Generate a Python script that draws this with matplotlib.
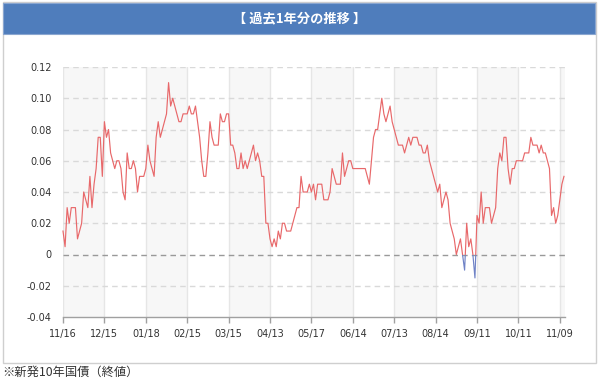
import matplotlib
matplotlib.use('Agg')
import matplotlib.pyplot as plt
from matplotlib.patches import Rectangle
import numpy as np

# ---- data ----
values = [
    0.015, 0.005, 0.03, 0.02, 0.03, 0.03, 0.03, 0.01, 0.015, 0.02,
    0.04, 0.035, 0.03, 0.05, 0.03, 0.045, 0.055, 0.075, 0.075, 0.05,
    0.085, 0.075, 0.08, 0.065, 0.06, 0.055, 0.06, 0.06, 0.055, 0.04,
    0.035, 0.065, 0.055, 0.055, 0.06, 0.055, 0.04, 0.05, 0.05, 0.05,
    0.055, 0.07, 0.06, 0.055, 0.05, 0.075, 0.085, 0.075, 0.08, 0.085,
    0.09, 0.11, 0.095, 0.10, 0.095, 0.09, 0.085, 0.085, 0.09, 0.09,
    0.09, 0.095, 0.09, 0.09, 0.095, 0.085, 0.075, 0.06, 0.05, 0.05,
    0.065, 0.085, 0.075, 0.07, 0.07, 0.07, 0.09, 0.085, 0.085, 0.09,
    0.09, 0.07, 0.07, 0.065, 0.055, 0.055, 0.065, 0.055, 0.06, 0.055,
    0.06, 0.065, 0.07, 0.06, 0.065, 0.06, 0.05, 0.05, 0.02, 0.02,
    0.01, 0.005, 0.01, 0.005, 0.015, 0.01, 0.02, 0.02, 0.015, 0.015,
    0.015, 0.02, 0.025, 0.03, 0.03, 0.05, 0.04, 0.04, 0.04, 0.045,
    0.04, 0.045, 0.035, 0.045, 0.045, 0.045, 0.035, 0.035, 0.035, 0.04,
    0.055, 0.05, 0.045, 0.045, 0.045, 0.065, 0.05, 0.055, 0.06, 0.06,
    0.055, 0.055, 0.055, 0.055, 0.055, 0.055, 0.055, 0.05, 0.045, 0.06,
    0.075, 0.08, 0.08, 0.09, 0.10, 0.09, 0.085, 0.09, 0.095, 0.085,
    0.08, 0.075, 0.07, 0.07, 0.07, 0.065, 0.07, 0.075, 0.07, 0.075,
    0.075, 0.075, 0.07, 0.07, 0.065, 0.065, 0.07, 0.06, 0.055, 0.05,
    0.045, 0.04, 0.045, 0.03, 0.035, 0.04, 0.035, 0.02, 0.015, 0.01,
    0.0, 0.005, 0.01, 0.0, -0.01, 0.02, 0.005, 0.01, 0.0, -0.015,
    0.025, 0.02, 0.04, 0.02, 0.03, 0.03, 0.03, 0.02, 0.025, 0.03,
    0.055, 0.065, 0.06, 0.075, 0.075, 0.055, 0.045, 0.055, 0.055, 0.06,
    0.06, 0.06, 0.06, 0.065, 0.065, 0.065, 0.075, 0.07, 0.07, 0.07,
    0.065, 0.07, 0.065, 0.065, 0.06, 0.055, 0.025, 0.03, 0.02, 0.025,
    0.035, 0.045, 0.05,
]
x_tick_labels = ["11/16", "12/15", "01/18", "02/15", "03/15", "04/13", "05/17",
                 "06/14", "07/13", "08/14", "09/11", "10/11", "11/09"]
tick_step = 20
y_ticks = [-0.04, -0.02, 0.0, 0.02, 0.04, 0.06, 0.08, 0.10, 0.12]
title = "【 過去1年分の推移 】"
note = "※新発10年国債（終値）"

W, H = 600, 379
fig = plt.figure(figsize=(W / 100, H / 100), dpi=100)
fig.patch.set_facecolor('white')

def fx(px):
    return px / W

def fy(py):
    return 1 - py / H

# outer border box
fig.patches.append(Rectangle((fx(2.5), fy(363)), fx(593), 361 / H,
                             transform=fig.transFigure, fill=False,
                             ec='#cfcfcf', lw=1.0))
# title bar
fig.patches.append(Rectangle((fx(3), fy(34)), fx(592), 31 / H,
                             transform=fig.transFigure, fc='#4f7dbc',
                             ec='#8aa6d0', lw=0.8))
fig.text(0.5, fy(18.5), title, ha='center', va='center', color='white',
         fontsize=9.5, fontweight='bold',
         family=['Noto Sans CJK JP', 'DejaVu Sans'])
fig.text(fx(2), fy(372), note, ha='left', va='center', color='#333333',
         fontsize=8.8, family=['Noto Sans CJK JP', 'DejaVu Sans'])

ax = fig.add_axes([fx(63), fy(317), fx(502), 250 / H])
n = len(values)
x = np.arange(n)
xmax = n - 0.5
ax.set_xlim(0, xmax)
ax.set_ylim(-0.04, 0.12)

# alternate bands
tick_pos = np.arange(0, n + tick_step, tick_step)
for k in range(0, len(tick_pos), 2):
    a = tick_pos[k]
    b = min(a + tick_step, xmax)
    if a < xmax:
        ax.axvspan(a, b, color='#f7f7f7', lw=0, zorder=0)

# vertical grid at ticks
for t in tick_pos[:len(x_tick_labels)]:
    ax.axvline(t, color='#e6e6e6', lw=1.0, zorder=1)

# horizontal dashed grid
for v in y_ticks[1:]:
    if v == 0:
        ax.axhline(v, color='#999999', lw=1.0, ls=(0, (4, 3)), zorder=2)
    else:
        ax.axhline(v, color='#d9d9d9', lw=1.0, ls=(0, (4, 3)), zorder=2)

# line: red above zero, blue below zero
red_line, = ax.plot(x, values, color='#e8686a', lw=0.85, zorder=3)
blue_line, = ax.plot(x, values, color='#6f82c6', lw=0.85, zorder=3)
clip_top = Rectangle((-10, 0), n + 20, 1.0, transform=ax.transData)
clip_bot = Rectangle((-10, -1.0), n + 20, 1.0, transform=ax.transData)
red_line.set_clip_path(clip_top)
blue_line.set_clip_path(clip_bot)

for s in ['top', 'right', 'left']:
    ax.spines[s].set_visible(False)
ax.spines['bottom'].set_color('#a0a0a0')
ax.spines['bottom'].set_linewidth(1.0)

ax.set_xticks(tick_pos[:len(x_tick_labels)])
ax.set_xticklabels(x_tick_labels)
ax.set_yticks(y_ticks)
ax.set_yticklabels(['0' if abs(v) < 1e-9 else f"{v:.2f}" for v in y_ticks])
ax.tick_params(axis='x', length=4, width=1, color='#a0a0a0', pad=5,
               labelsize=7, labelcolor='#333333')
ax.tick_params(axis='y', length=0, pad=8, labelsize=7, labelcolor='#333333')
ax.set_facecolor('white')

fig.savefig('out.png', dpi=100, facecolor='white')
